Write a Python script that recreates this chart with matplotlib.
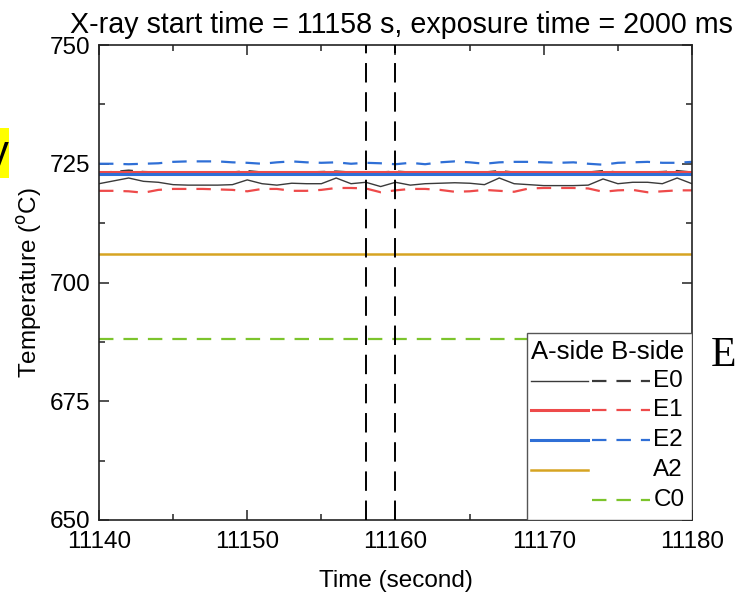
import numpy as np
import matplotlib
matplotlib.use("Agg")
import matplotlib.pyplot as plt
from matplotlib.patches import Rectangle
from matplotlib.ticker import MultipleLocator

plt.rcParams["font.family"] = ["Liberation Sans", "DejaVu Sans"]

# time axis, one sample per second
t = np.arange(11140, 11181)

# E0 thermocouple, A side (solid) and B side (dashed)
e0_a = [720.8, 721.4, 722.0, 721.3, 721.1, 720.6, 720.5, 720.5, 720.5, 720.6,
        721.6, 720.8, 720.5, 720.9, 720.8, 720.8, 722.0, 720.8, 721.1, 720.2,
        721.1, 720.5, 720.8, 720.9, 721.0, 720.9, 720.6, 722.0, 720.8, 720.6,
        720.4, 720.4, 720.4, 720.5, 721.8, 720.8, 721.1, 721.1, 720.8, 722.0,
        720.8]
e0_b = [723.2, 723.3, 723.6, 723.3, 723.2, 723.2, 723.2, 723.2, 723.2, 723.2,
        723.5, 723.2, 723.2, 723.2, 723.2, 723.3, 723.4, 723.2, 723.2, 723.2,
        723.4, 723.2, 723.2, 723.2, 723.2, 723.2, 723.2, 723.5, 723.2, 723.2,
        723.2, 723.2, 723.2, 723.2, 723.5, 723.2, 723.2, 723.2, 723.3, 723.5,
        723.2]
# E1 thermocouple
e1_a = [723.2] * 41
e1_b = [719.3, 719.3, 719.2, 718.9, 719.5, 719.7, 719.7, 719.7, 719.6, 719.5,
        719.2, 719.7, 719.7, 719.3, 719.3, 719.5, 719.9, 719.9, 719.8, 719.0,
        719.4, 719.7, 719.7, 719.5, 719.1, 719.2, 719.5, 719.3, 719.1, 719.8,
        719.9, 719.9, 719.9, 719.8, 719.1, 719.4, 719.5, 719.0, 719.2, 719.4,
        719.4]
# E2 thermocouple
e2_a = [722.9] * 41
e2_b = [725.0, 725.0, 724.9, 725.0, 725.1, 725.4, 725.5, 725.5, 725.5, 725.3,
        725.2, 725.0, 725.3, 725.5, 725.3, 725.2, 725.3, 725.0, 725.2, 725.1,
        724.9, 725.2, 724.9, 725.3, 725.5, 725.3, 725.0, 725.3, 725.4, 725.4,
        725.3, 725.2, 725.3, 725.0, 724.8, 725.2, 725.3, 725.4, 725.2, 725.2,
        725.4]
a2_a = [705.9] * 41
c0_b = [688.0] * 41

xray_start = 11158
xray_end = 11160

BLACK = "#3a3a3a"
RED = "#ee4a4a"
BLUE = "#2f6fd6"
GOLD = "#d6a422"
GREEN = "#7cc42c"
DASH = (6.5, 4.5)

fig = plt.figure(figsize=(7.36, 5.97), dpi=100)
ax = fig.add_axes([0.1345, 0.129, 0.8057, 0.7956])

ax.plot(t, c0_b, color=GREEN, lw=1.6, dashes=DASH)
ax.plot(t, a2_a, color=GOLD, lw=1.8)
ax.plot(t, e1_b, color=RED, lw=1.6, dashes=DASH)
ax.plot(t, e2_b, color=BLUE, lw=1.6, dashes=DASH)
ax.plot(t, e0_b, color=BLACK, lw=1.4, dashes=DASH)
ax.plot(t, e1_a, color=RED, lw=2.2)
ax.plot(t, e2_a, color=BLUE, lw=2.2)
ax.plot(t, e0_a, color=BLACK, lw=1.0)

for xv in (xray_start, xray_end):
    ax.axvline(xv, color="black", lw=1.4, dashes=(10, 5), zorder=5)

ax.set_xlim(11140, 11180)
ax.set_ylim(650, 750)
ax.xaxis.set_major_locator(MultipleLocator(10))
ax.xaxis.set_minor_locator(MultipleLocator(5))
ax.yaxis.set_major_locator(MultipleLocator(25))
ax.yaxis.set_minor_locator(MultipleLocator(12.5))
ax.tick_params(which="both", direction="in", top=True, right=True,
               width=1.1, color="#222222")
ax.tick_params(which="major", length=7, labelsize=17.5, pad=6)
ax.tick_params(axis="x", which="major", pad=8)
ax.tick_params(which="minor", length=4)
for sp in ax.spines.values():
    sp.set_linewidth(1.2)
    sp.set_color("#222222")

ax.set_xlabel("Time (second)", fontsize=17.5, labelpad=12)
ax.set_ylabel("Temperature ($^{\\rm o}$C)", fontsize=17.5, labelpad=4)
ax.set_title("X-ray start time = 11158 s, exposure time = 2000 ms",
             fontsize=20.6, pad=9, x=0.51)

# two-column legend box (A-side solid / B-side dashed)
tr = ax.transAxes
ax.add_patch(Rectangle((0.7218, 0.0), 0.2782, 0.3937, transform=tr,
                       facecolor="white", edgecolor="#555555", lw=1.0,
                       zorder=10))
ax.text(0.7285, 0.3537, "A-side B-side", transform=tr, fontsize=18.5,
        va="center", ha="left", zorder=11)
rows = [("E0", BLACK, True, True, 1.0),
        ("E1", RED, True, True, 2.2),
        ("E2", BLUE, True, True, 2.2),
        ("A2", GOLD, True, False, 1.8),
        ("C0", GREEN, False, True, 1.6)]
row_y = [0.2926, 0.2316, 0.1684, 0.1053, 0.0421]
for (lab, col, solid, dashed, lw), yy in zip(rows, row_y):
    if solid:
        ax.plot([0.7285, 0.8246], [yy, yy], transform=tr, color=col,
                lw=lw, zorder=11, clip_on=False)
    if dashed:
        ax.plot([0.8314, 0.9292], [yy, yy], transform=tr, color=col,
                lw=1.6, dashes=DASH, zorder=11, clip_on=False)
    ax.text(0.935, yy, lab, transform=tr, fontsize=17.5, va="center",
            ha="left", zorder=11)

# stray page fragments at the edges
fig.patches.append(Rectangle((0, 1 - 178 / 597), 9 / 736, 50 / 597,
                             transform=fig.transFigure, facecolor="#ffff00",
                             edgecolor="none"))
fig.text(-12 / 736, 1 - 154 / 597, "y", fontsize=30, va="center", ha="left")
fig.text(711 / 736, 1 - 356 / 597, "E", fontsize=30, va="center", ha="left",
         family="Liberation Serif")

fig.savefig("out.png", dpi=100)
